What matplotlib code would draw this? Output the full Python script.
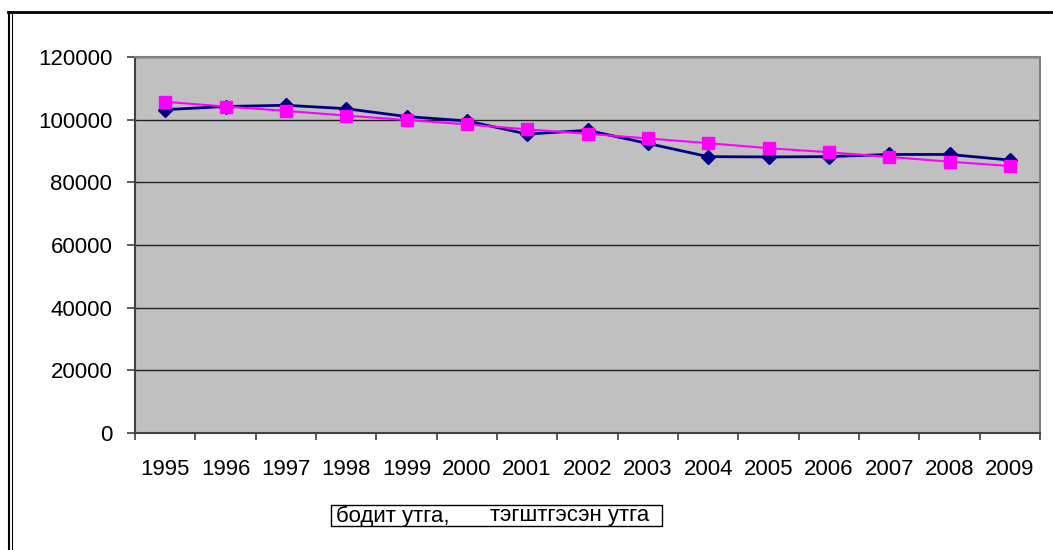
import matplotlib
matplotlib.use("Agg")
import matplotlib.pyplot as plt
from matplotlib.patches import Rectangle
from matplotlib.lines import Line2D

years = ["1995", "1996", "1997", "1998", "1999", "2000", "2001", "2002",
         "2003", "2004", "2005", "2006", "2007", "2008", "2009"]
actual = [103200, 104200, 104600, 103500, 101000, 99600, 95400, 96600,
          92400, 88200, 88100, 88200, 88900, 88900, 87100]
smoothed = [105700, 104200, 102800, 101300, 99900, 98500, 96900, 95500,
            94000, 92500, 90900, 89600, 88100, 86600, 85200]
y_ticks = [0, 20000, 40000, 60000, 80000, 100000, 120000]
legend_labels = ["бодит утга,", "тэгштгэсэн утга"]

plt.rcParams['font.family'] = ['Liberation Sans', 'DejaVu Sans']

W, H = 1053, 550
fig = plt.figure(figsize=(W / 100, H / 100), dpi=100)
ax = fig.add_axes([135 / W, 1 - 433 / H, (1040 - 135) / W, (433 - 57) / H])
ax.set_facecolor('#C0C0C0')

x = list(range(len(years)))
ax.plot(x, actual, color='#000080', lw=2, marker='D', ms=7,
        markerfacecolor='#000080', markeredgecolor='#000080', zorder=3)
ax.plot(x, smoothed, color='#FF00FF', lw=1.5, marker='s', ms=9,
        markerfacecolor='#FF00FF', markeredgecolor='#FF00FF', zorder=4)

ax.set_xlim(-0.5, len(years) - 0.5)
ax.set_ylim(0, 120000)
ax.set_yticks(y_ticks)
ax.set_yticklabels([str(v) for v in y_ticks], fontsize=16)
ax.set_xticks(x)
ax.set_xticklabels(years, fontsize=16)
ax.tick_params(axis='x', length=0, pad=19)
ax.set_xticks([i + 0.5 for i in range(-1, len(years))], minor=True)
ax.tick_params(axis='x', which='minor', length=5, width=1.2, color='#404040', direction='out')
ax.tick_params(axis='y', length=5.8, width=1.2, color='#404040', direction='out', pad=10.5)
ax.yaxis.grid(True, color='#202020', lw=1)
ax.set_axisbelow(True)
for s in ['left', 'bottom']:
    ax.spines[s].set_color('#404040')
    ax.spines[s].set_linewidth(1.5)
for s in ['top', 'right']:
    ax.spines[s].set_color('#808080')
    ax.spines[s].set_linewidth(1.5)

# outer frame (double left line, top line)
fig.add_artist(Line2D([9 / W, 9 / W], [0, 1 - 12 / H], transform=fig.transFigure, color='black', lw=1.5))
fig.add_artist(Line2D([12 / W, 12 / W], [0, 1 - 12 / H], transform=fig.transFigure, color='black', lw=0.8))
fig.add_artist(Line2D([8 / W, 1], [1 - 12 / H, 1 - 12 / H], transform=fig.transFigure, color='black', lw=2))

# legend box (text only)
fig.add_artist(Rectangle((331 / W, 1 - 526 / H), (662 - 331) / W, (526 - 505) / H,
                         transform=fig.transFigure, facecolor='white', edgecolor='black', lw=1))
fig.text(336 / W, 1 - 516 / H, legend_labels[0], fontsize=16, va='center', ha='left')
fig.text(490 / W, 1 - 516 / H, legend_labels[1], fontsize=16, va='center', ha='left')

fig.savefig('out.png', dpi=100)
